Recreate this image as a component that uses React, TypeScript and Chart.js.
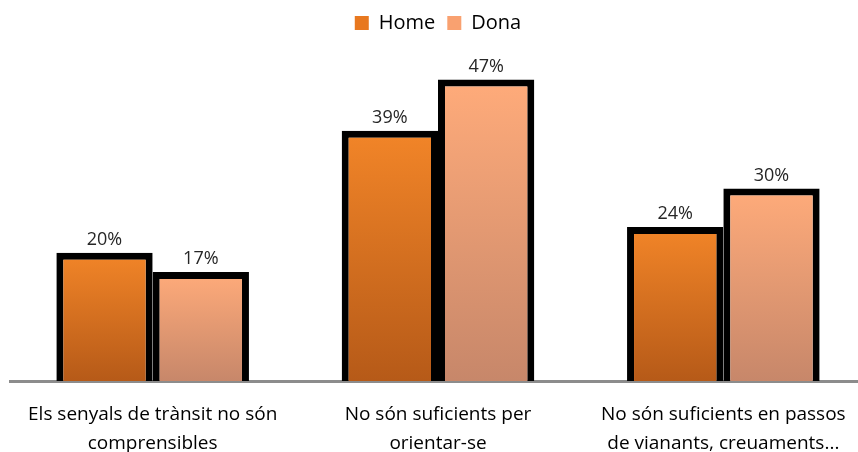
import React, { useEffect, useRef } from "react";
import { Chart, registerables } from "chart.js";

Chart.register(...registerables);

const categories: string[][] = [
  ["Els senyals de trànsit no són", "comprensibles"],
  ["No són suficients per", "orientar-se"],
  ["No són suficients en passos", "de vianants, creuaments..."],
];
const seriesNames = ["Home", "Dona"];
const homeValues = [20, 39, 24];
const donaValues = [17, 47, 30];

const FONT = "'Open Sans', 'Noto Sans', sans-serif";

const palette = {
  Home: { top: "#F28528", bottom: "#B65A18", solid: "#E8781F" },
  Dona: { top: "#FFAB7A", bottom: "#C7876A", solid: "#F9A170" },
};

function gradientFor(key: "Home" | "Dona") {
  return (ctx: any) => {
    const chart = ctx.chart;
    const area = chart.chartArea;
    const c = palette[key];
    if (!area || ctx.type !== "data") return c.solid;
    const yScale = chart.scales.y;
    const v = ctx.raw as number;
    const yTop = yScale.getPixelForValue(v);
    const yBot = yScale.getPixelForValue(0);
    const g = chart.ctx.createLinearGradient(0, yTop, 0, yBot);
    g.addColorStop(0, c.top);
    g.addColorStop(1, c.bottom);
    return g;
  };
}

const valueLabels = {
  id: "valueLabels",
  afterDatasetsDraw(chart: any) {
    const ctx = chart.ctx;
    ctx.save();
    ctx.font = `18px ${FONT}`;
    ctx.fillStyle = "#262626";
    ctx.textAlign = "center";
    ctx.textBaseline = "bottom";
    chart.data.datasets.forEach((ds: any, i: number) => {
      const meta = chart.getDatasetMeta(i);
      meta.data.forEach((bar: any, j: number) => {
        ctx.fillText(`${ds.data[j]}%`, bar.x, bar.y - 4);
      });
    });
    ctx.restore();
  },
};

export default function App() {
  const ref = useRef<HTMLCanvasElement | null>(null);
  useEffect(() => {
    if (!ref.current) return;
    const chart = new Chart(ref.current, {
      type: "bar",
      data: {
        labels: categories,
        datasets: [
          {
            label: seriesNames[0],
            data: homeValues,
            backgroundColor: gradientFor("Home"),
            borderColor: "#000000",
            borderWidth: 7,
          },
          {
            label: seriesNames[1],
            data: donaValues,
            backgroundColor: gradientFor("Dona"),
            borderColor: "#000000",
            borderWidth: 7,
          },
        ],
      },
      options: {
        responsive: true,
        maintainAspectRatio: false,
        animation: false,
        layout: { padding: { left: 10, right: 0, top: 1, bottom: 0 } },
        datasets: {
          bar: { categoryPercentage: 0.675, barPercentage: 1.0 },
        },
        plugins: {
          tooltip: { enabled: false },
          legend: {
            position: "top",
            labels: {
              font: { family: FONT, size: 20 },
              color: "#000000",
              boxWidth: 14,
              boxHeight: 14,
              padding: 12,
              generateLabels: (chart: any) =>
                chart.data.datasets.map((ds: any, i: number) => ({
                  text: ds.label,
                  fillStyle: palette[ds.label as "Home" | "Dona"].solid,
                  strokeStyle: "rgba(0,0,0,0)",
                  lineWidth: 0,
                  hidden: false,
                  datasetIndex: i,
                  fontColor: "#000000",
                })),
            },
          },
        },
        scales: {
          x: {
            grid: { display: false, drawTicks: false },
            border: { display: true, color: "#8C8C8C", width: 3 },
            ticks: {
              font: { family: FONT, size: 19, lineHeight: 1.526 },
              color: "#000000",
              padding: 19,
              maxRotation: 0,
              autoSkip: false,
            },
          },
          y: {
            display: false,
            min: 0,
            max: 52.7,
          },
        },
      },
      plugins: [valueLabels],
    });
    return () => chart.destroy();
  }, []);
  return (
    <div
      style={{
        position: "fixed",
        left: 0,
        top: 0,
        width: 858,
        height: 452,
        overflow: "hidden",
        background: "#ffffff",
      }}
    >
      <div style={{ position: "relative", width: 866, height: 477 }}>
        <canvas ref={ref} />
      </div>
    </div>
  );
}
